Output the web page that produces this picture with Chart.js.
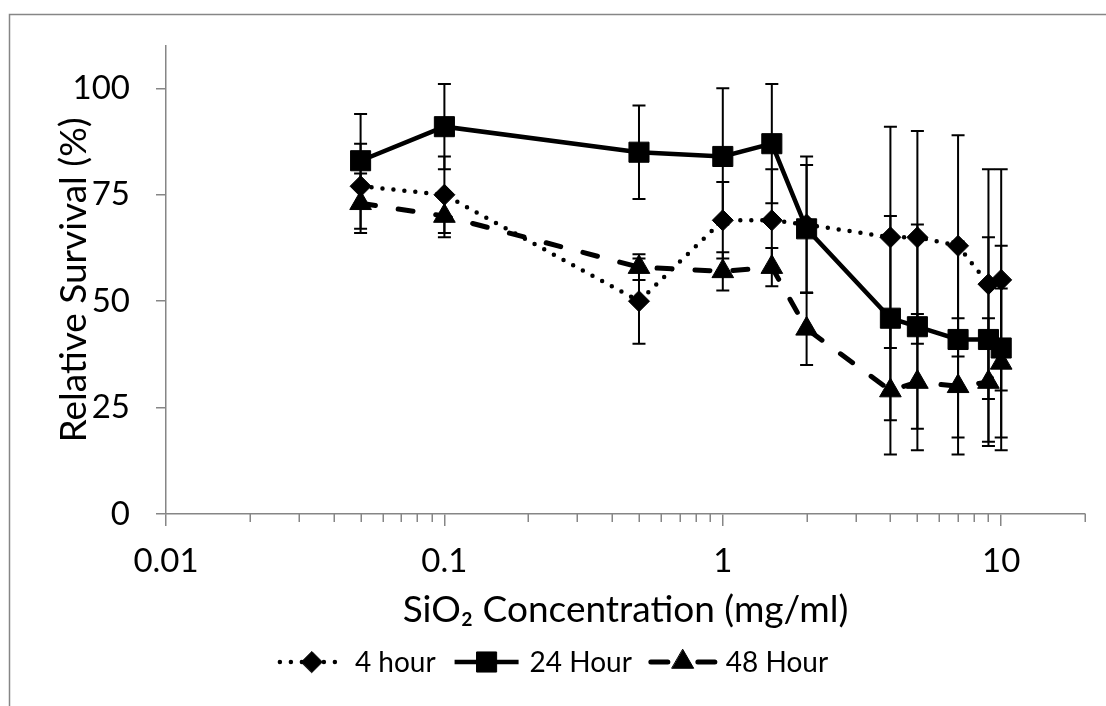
<!DOCTYPE html>
<html>
<head>
<meta charset="utf-8">
<script src="https://cdn.jsdelivr.net/npm/chart.js@4.4.1/dist/chart.umd.min.js"></script>
<style>
html, body { margin: 0; padding: 0; background: #ffffff; }
canvas { display: block; }
</style>
</head>
<body>
<canvas id="chart" width="1106" height="706"></canvas>
<script>
// ---- data ----
const concentrations = [0.05, 0.1, 0.5, 1, 1.5, 2, 4, 5, 7, 9, 10];
const seriesNames = ['4 hour', '24 Hour', '48 Hour'];
const survival4h  = [77, 75, 50, 69, 69, 68, 65, 65, 63, 54, 55];
const error4h     = [10, 9, 10, 9, 12, 16, 26, 25, 26, 27, 26];
const survival24h = [83, 91, 85, 84, 87, 67, 46, 44, 41, 41, 39];
const error24h    = [11, 10, 11, 16, 14, 15, 24, 24, 23, 24, 24];
const survival48h = [73, 70, 58, 57, 58, 43.5, 29, 31, 30, 31, 35.5];
const error48h    = [7, 5, 3, 4.5, 4.5, 8.5, 15, 16, 16, 15, 17.5];
const xTickValues = [0.01, 0.1, 1, 10];
const xTickLabels = ['0.01', '0.1', '1', '10'];
const yTickValues = [0, 25, 50, 75, 100];
const yTickLabels = ['0', '25', '50', '75', '100'];
const xTitle = 'SiO\u2082 Concentration (mg/ml)';
const yTitle = 'Relative Survival (%)';

// ---- styling ----
const FONT = 'Lato, "Open Sans", "DejaVu Sans", sans-serif';
const AXIS_COLOR = '#868686';
const INK = '#000000';

function points(values) {
  return concentrations.map((c, i) => ({ x: c, y: values[i] }));
}

function fallbackMarker(ctx, style, r, x, y) {
  ctx.beginPath();
  if (style === 'rect') {
    const s = r * Math.SQRT1_2;
    ctx.rect(x - s, y - s, 2 * s, 2 * s);
  } else if (style === 'rectRot') {
    ctx.moveTo(x - r, y); ctx.lineTo(x, y - r); ctx.lineTo(x + r, y); ctx.lineTo(x, y + r);
    ctx.closePath();
  } else {
    ctx.moveTo(x, y - r);
    ctx.lineTo(x + r * Math.sin(2 * Math.PI / 3), y + r * 0.5);
    ctx.lineTo(x - r * Math.sin(2 * Math.PI / 3), y + r * 0.5);
    ctx.closePath();
  }
  ctx.fill();
  ctx.stroke();
}

function drawMarker(ctx, ds, x, y) {
  ctx.fillStyle = ds.pointBackgroundColor;
  ctx.strokeStyle = ds.pointBorderColor;
  ctx.lineWidth = ds.pointBorderWidth;
  ctx.setLineDash([]);
  if (Chart.helpers && Chart.helpers.drawPoint) {
    Chart.helpers.drawPoint(ctx, {
      pointStyle: ds.pointStyle, radius: ds.pointRadius,
      borderWidth: ds.pointBorderWidth, rotation: 0
    }, x, y);
  } else {
    fallbackMarker(ctx, ds.pointStyle, ds.pointRadius, x, y);
  }
}

// outer chart border (runs off the picture at right and bottom)
const frame = {
  id: 'frame',
  beforeDraw(chart) {
    const ctx = chart.ctx;
    ctx.save();
    ctx.fillStyle = '#ffffff';
    ctx.fillRect(0, 0, chart.width, chart.height);
    ctx.strokeStyle = AXIS_COLOR;
    ctx.lineWidth = 1.5;
    ctx.strokeRect(9.5, 14.5, chart.width + 40, chart.height + 40);
    ctx.restore();
  }
};

// error bars drawn through the scales
const errorBars = {
  id: 'errorBars',
  beforeDatasetsDraw(chart) {
    const ctx = chart.ctx;
    const xs = chart.scales.x, ys = chart.scales.y;
    ctx.save();
    ctx.strokeStyle = INK;
    ctx.lineWidth = 2;
    ctx.setLineDash([]);
    chart.data.datasets.forEach(ds => {
      ds.data.forEach((p, i) => {
        const e = ds.errors[i];
        const x = xs.getPixelForValue(p.x);
        const yt = ys.getPixelForValue(p.y + e);
        const yb = ys.getPixelForValue(p.y - e);
        ctx.beginPath();
        ctx.moveTo(x, yt); ctx.lineTo(x, yb);
        ctx.moveTo(x - 6.5, yt); ctx.lineTo(x + 6.5, yt);
        ctx.moveTo(x - 6.5, yb); ctx.lineTo(x + 6.5, yb);
        ctx.stroke();
      });
    });
    ctx.restore();
  }
};

// minor log ticks on the x axis
const minorTicks = {
  id: 'minorTicks',
  afterDraw(chart) {
    const xs = chart.scales.x;
    const ctx = chart.ctx;
    const y0 = chart.chartArea.bottom;
    ctx.save();
    ctx.strokeStyle = AXIS_COLOR;
    ctx.lineWidth = 1.5;
    const tick = v => {
      const x = Math.round(xs.getPixelForValue(v)) + 0.25;
      ctx.beginPath(); ctx.moveTo(x, y0); ctx.lineTo(x, y0 + 8); ctx.stroke();
    };
    for (let d = xs.min; d < xs.max * 0.999; d *= 10) {
      for (let m = 2; m <= 9; m++) {
        const v = d * m;
        if (v >= xs.max * 0.999) break;
        tick(v);
      }
    }
    tick(xs.max);
    ctx.restore();
  }
};

// legend with line + marker samples
const lineLegend = {
  id: 'lineLegend',
  afterDraw(chart) {
    const ctx = chart.ctx;
    ctx.save();
    ctx.font = '28px ' + FONT;
    const lineLen = 68, gapText = 9, gapItem = 17;
    const items = chart.data.datasets.map(ds => ({ ds, w: ctx.measureText(ds.label).width }));
    const total = items.reduce((s, it) => s + lineLen + gapText + it.w, 0) + gapItem * (items.length - 1);
    let x = chart.width / 2 - total / 2;
    const y = chart.height - 44;
    items.forEach(it => {
      const ds = it.ds;
      ctx.strokeStyle = ds.borderColor;
      ctx.lineWidth = ds.borderWidth;
      ctx.lineCap = ds.borderCapStyle || 'butt';
      ctx.setLineDash(ds.legendDash || ds.borderDash || []);
      ctx.beginPath(); ctx.moveTo(x + 2, y); ctx.lineTo(x + lineLen - 2, y); ctx.stroke();
      drawMarker(ctx, ds, x + lineLen / 2, y);
      ctx.fillStyle = INK;
      ctx.textBaseline = 'middle';
      ctx.textAlign = 'left';
      ctx.font = '28px ' + FONT;
      ctx.fillText(ds.label, x + lineLen + gapText, y + 1);
      x += lineLen + gapText + it.w + gapItem;
    });
    ctx.restore();
  }
};

function build() {
  new Chart(document.getElementById('chart'), {
    type: 'line',
    data: {
      datasets: [
        {
          label: seriesNames[0], data: points(survival4h), errors: error4h,
          borderColor: INK, borderWidth: 4.5, borderDash: [0, 11], borderCapStyle: 'round',
          pointStyle: 'rectRot', pointRadius: 10.5, pointBorderWidth: 1,
          pointBackgroundColor: INK, pointBorderColor: INK, tension: 0
        },
        {
          label: seriesNames[1], data: points(survival24h), errors: error24h,
          borderColor: INK, borderWidth: 4.5, borderDash: [], borderCapStyle: 'butt',
          pointStyle: 'rect', pointRadius: 14.2, pointBorderWidth: 1,
          pointBackgroundColor: INK, pointBorderColor: INK, tension: 0
        },
        {
          label: seriesNames[2], data: points(survival48h), errors: error48h,
          borderColor: INK, borderWidth: 5, borderDash: [15, 23], borderCapStyle: 'round',
          legendDash: [17, 30],
          pointStyle: 'triangle', pointRadius: 12.5, pointBorderWidth: 1,
          pointBackgroundColor: INK, pointBorderColor: INK, tension: 0
        }
      ]
    },
    options: {
      responsive: false,
      animation: false,
      devicePixelRatio: 1,
      layout: { padding: { left: 0, right: 21, top: 43, bottom: 74 } },
      plugins: { legend: { display: false }, tooltip: { enabled: false } },
      scales: {
        x: {
          type: 'logarithmic',
          min: 0.01, max: 20,
          afterBuildTicks(scale) { scale.ticks = xTickValues.map(v => ({ value: v, major: true })); },
          afterFit(scale) { scale.height = 118; },
          ticks: {
            autoSkip: false, maxRotation: 0, minRotation: 0, padding: 16,
            color: INK, font: { family: FONT, size: 33 },
            callback: (v, i) => xTickLabels[i]
          },
          grid: { drawOnChartArea: false, drawTicks: true, tickLength: 12, color: AXIS_COLOR, lineWidth: 1.5 },
          border: { display: true, color: AXIS_COLOR, width: 1.5 },
          title: {
            display: true, text: xTitle, color: INK,
            font: { family: FONT, size: 37 }, padding: { top: 0, bottom: 0 }
          }
        },
        y: {
          type: 'linear',
          min: 0, max: 110,
          afterBuildTicks(scale) { scale.ticks = yTickValues.map(v => ({ value: v })); },
          afterFit(scale) { scale.width = 166; },
          ticks: {
            padding: 26, color: INK, font: { family: FONT, size: 33 },
            callback: (v, i) => yTickLabels[i]
          },
          grid: { drawOnChartArea: false, drawTicks: true, tickLength: 10, color: AXIS_COLOR, lineWidth: 1.5 },
          border: { display: true, color: AXIS_COLOR, width: 1.5 },
          title: {
            display: true, text: yTitle, color: INK,
            font: { family: FONT, size: 37 }, padding: { top: 52, bottom: 0 }
          }
        }
      }
    },
    plugins: [frame, errorBars, minorTicks, lineLegend]
  });
}

if (document.fonts && document.fonts.load) {
  Promise.all([
    document.fonts.load('33px Lato'),
    document.fonts.load('37px Lato'),
    document.fonts.load('28px Lato')
  ]).then(build, build);
} else {
  build();
}
</script>
</body>
</html>
